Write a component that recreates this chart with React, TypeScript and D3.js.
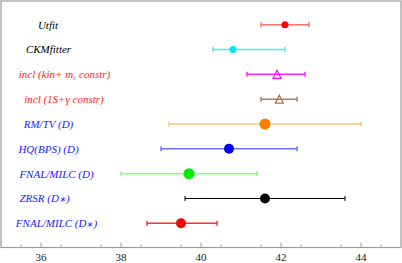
import { scaleLinear, scalePoint, range } from 'd3'

const labels = [
  'Utfit',
  'CKMfitter',
  'incl (kin+ mc constr)',
  'incl (1S+γ constr)',
  'RM/TV (D)',
  'HQ(BPS) (D)',
  'FNAL/MILC (D)',
  'ZRSR (D∗)',
  'FNAL/MILC (D∗)',
]
const centers = [42.1, 40.8, 41.9, 41.96, 41.6, 40.7, 39.7, 41.6, 39.5]
const lows = [41.5, 40.3, 41.15, 41.5, 39.2, 39.0, 38.0, 39.6, 38.65]
const highs = [42.7, 42.1, 42.6, 42.4, 44.0, 42.4, 41.4, 43.6, 40.4]
const xTicks = [36, 38, 40, 42, 44]

// styling per row
const markers = ['circle', 'circle', 'triangle', 'triangle', 'circle', 'circle', 'circle', 'circle', 'circle']
const markerColors = ['#ff0000', '#00e8e8', '#ff00ff', '#a0704a', '#ff8000', '#0000ff', '#00ee00', '#000000', '#ff0000']
const lineColors = ['#ff7070', '#40f0f0', '#ff20ff', '#b08060', '#ffc080', '#7070ff', '#80ff80', '#000000', '#ff3030']
const markerSizes = [3.5, 3.5, 4, 4, 5.5, 5, 5.5, 5, 5]
const labelColors = ['#000', '#000', '#ff2020', '#ff2020', '#2020ff', '#2020ff', '#2020ff', '#2020ff', '#2020ff']
const labelX = [48, 48.5, 64.5, 64, 48.5, 48.5, 56.5, 44.5, 56.5]

const width = 402
const height = 263
const frame = { left: 1, right: 401, top: 1, bottom: 247.5 }
const serifStyle = { fontFamily: '"Liberation Serif", "Times New Roman", Times, serif' }

function Label({ text }: { text: string }) {
  if (text.includes(' mc ')) {
    const [a, b] = text.split(' mc ')
    return (
      <>
        {a} m<tspan fontSize={7} dy={2}>c</tspan>
        <tspan dy={-2}> {b}</tspan>
      </>
    )
  }
  if (text.includes('∗')) {
    const [a, b] = text.split('∗')
    return (
      <>
        {a}
        <tspan fontSize={8}>∗</tspan>
        {b}
      </>
    )
  }
  return <>{text}</>
}

export default function App() {
  const x = scaleLinear().domain([35, 45]).range([frame.left, frame.right])
  const y = scalePoint<number>()
    .domain(range(labels.length))
    .range([24.7, 223.3])
  const minorTicks = range(35.5, 45, 1)

  return (
    <svg width={width} height={height} style={{ position: 'absolute', left: 0, top: 0 }}>
      <rect x={0} y={0} width={width} height={height} fill="#fff" />
      <rect
        x={frame.left}
        y={frame.top}
        width={frame.right - frame.left}
        height={frame.bottom - frame.top}
        fill="none"
        stroke="#9a9a9a"
        strokeWidth={1.2}
      />
      {xTicks.map((t) => (
        <line key={t} x1={x(t)} x2={x(t)} y1={frame.bottom} y2={frame.bottom - 5} stroke="#9a9a9a" />
      ))}
      {minorTicks.map((t) => (
        <line key={`m${t}`} x1={x(t)} x2={x(t)} y1={frame.bottom} y2={frame.bottom - 3} stroke="#9a9a9a" />
      ))}
      {xTicks.map((t) => (
        <text
          key={`l${t}`}
          x={x(t)}
          y={261}
          textAnchor="middle"
          style={serifStyle}
          fontSize={11}
          fill="#222"
        >
          {t}
        </text>
      ))}

      {labels.map((label, i) => {
        const cy = y(i) ?? 0
        const lineW = i === 7 ? 1 : 1.5
        return (
          <g key={label}>
            <text
              x={labelX[i]}
              y={cy}
              dy="0.35em"
              textAnchor="middle"
              style={serifStyle}
              fontStyle="italic"
              fontSize={11}
              fill={labelColors[i]}
            >
              <Label text={label} />
            </text>
            <line x1={x(lows[i])} x2={x(highs[i])} y1={cy} y2={cy} stroke={lineColors[i]} strokeWidth={lineW} />
            <line x1={x(lows[i])} x2={x(lows[i])} y1={cy - 2.5} y2={cy + 2.5} stroke={lineColors[i]} strokeWidth={lineW} />
            <line x1={x(highs[i])} x2={x(highs[i])} y1={cy - 2.5} y2={cy + 2.5} stroke={lineColors[i]} strokeWidth={lineW} />
            {markers[i] === 'circle' ? (
              <circle cx={x(centers[i])} cy={cy} r={markerSizes[i]} fill={markerColors[i]} />
            ) : (
              <path
                d={`M${x(centers[i])},${cy - markerSizes[i]} L${x(centers[i]) + markerSizes[i]},${cy + markerSizes[i]} L${x(centers[i]) - markerSizes[i]},${cy + markerSizes[i]} Z`}
                fill="none"
                stroke={markerColors[i]}
                strokeWidth={1.2}
              />
            )}
          </g>
        )
      })}
    </svg>
  )
}
